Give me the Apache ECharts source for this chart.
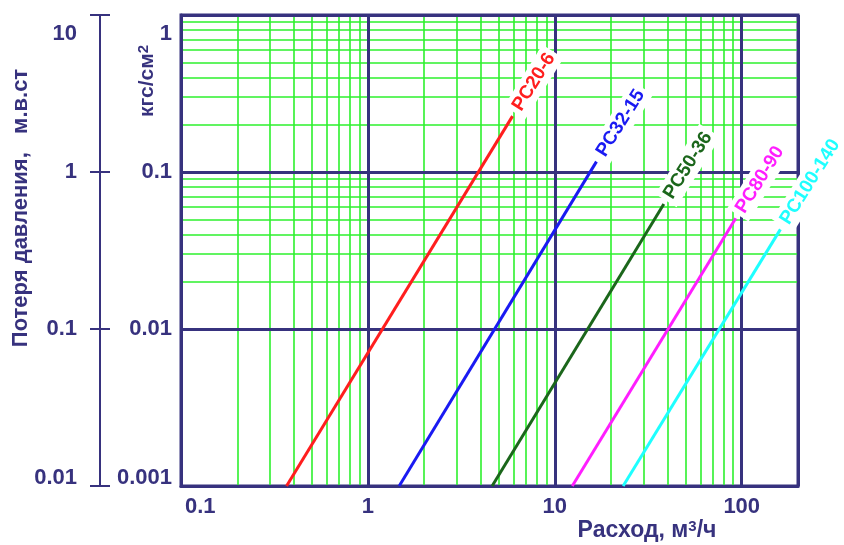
<!DOCTYPE html>
<html><head><meta charset="utf-8">
<script src="https://cdn.jsdelivr.net/npm/echarts@6/dist/echarts.min.js"></script>
<style>html,body{margin:0;padding:0;background:#fff}#c{width:844px;height:545px}</style>
</head><body><div id="c"></div>
<script>
// ---- data ----
const seriesNames = ['PC20-6', 'PC32-15', 'PC50-36', 'PC80-90', 'PC100-140'];
const seriesColors = ['#ff1e1e', '#1a1af2', '#1b661b', '#ff1eff', '#1effff'];
const flowStart = [0.367, 1.47, 4.62, 12.4, 23.2];      // m3/h at bottom end
const lossStart = [0.001, 0.001, 0.001, 0.001, 0.001];  // kgf/cm2
const flowEnd = [5.94, 16.7, 38.3, 92.9, 161];          // m3/h at top end
const lossEnd = [0.227, 0.1164, 0.0625, 0.0507, 0.0431];// kgf/cm2
const xTickLabels = ['0.1', '1', '10', '100'];
const yTickLabels = ['0.001', '0.01', '0.1', '1'];
const yLeftTickLabels = ['0.01', '0.1', '1', '10'];
const xDecades = [0.1, 1, 10];
const yDecades = [0.001, 0.01, 0.1];
const minorSteps = [2, 3, 4, 5, 6, 7, 8, 9];

const NAVY = '#37327e';
const GREEN = '#2cf02c';
const FONT = '"Liberation Sans", Arial, sans-serif';

const xMinor = [];
xDecades.forEach(d => minorSteps.forEach(s => xMinor.push(+(d * s).toPrecision(6))));
const yMinor = [];
yDecades.forEach(d => minorSteps.forEach(s => yMinor.push(+(d * s).toPrecision(6))));

function findLabel(list, v) {
  for (let i = 0; i < list.length; i++) {
    if (Math.abs(Math.log10(parseFloat(list[i])) - Math.log10(v)) < 1e-6) return i;
  }
  return -1;
}
const labelFont = { color: NAVY, fontSize: 22, fontWeight: 'bold', fontFamily: FONT };
const richY = {
  t: Object.assign({ padding: [38, 0, 0, 0] }, labelFont),
  b: Object.assign({ padding: [0, 0, 16, 0] }, labelFont)
};
function yFormatter(list) {
  return function (v) {
    const i = findLabel(list, v);
    if (i < 0) return '';
    if (i === list.length - 1) return '{t|' + list[i] + '}';
    if (i === 0) return '{b|' + list[i] + '}';
    return list[i];
  };
}

const chart = echarts.init(document.getElementById('c'), null, { renderer: 'canvas' });

const curveSeries = seriesNames.map((name, i) => ({
  type: 'line',
  name: name,
  xAxisIndex: 0,
  yAxisIndex: 0,
  z: 3,
  symbol: 'circle',
  symbolSize: 0.1,
  showSymbol: true,
  silent: true,
  lineStyle: { color: seriesColors[i], width: 3 },
  itemStyle: { color: seriesColors[i] },
  label: { show: false },
  data: [
    [flowStart[i], lossStart[i]],
    {
      value: [flowEnd[i], lossEnd[i]],
      label: {
        show: true,
        formatter: name,
        position: 'inside',
        align: 'left',
        verticalAlign: 'middle',
        rotate: 58,
        offset: [4, 0],
        color: seriesColors[i],
        fontSize: 19,
        fontWeight: 'bold',
        fontFamily: FONT,
        backgroundColor: '#ffffff',
        padding: [3, 4, 3, 4]
      }
    }
  ]
}));

const gridSeries = {
  type: 'line',
  xAxisIndex: 0,
  yAxisIndex: 0,
  data: [],
  silent: true,
  markLine: {
    silent: true,
    z: 1,
    animation: false,
    symbol: ['none', 'none'],
    label: { show: false },
    emphasis: { disabled: true },
    lineStyle: { color: GREEN, width: 1.6, type: 'solid' },
    data: xMinor.map(v => ({ xAxis: v })).concat(yMinor.map(v => ({ yAxis: v })))
  }
};

const leftAxisBase = {
  type: 'log', logBase: 10, min: 0.01, max: 10,
  position: 'left', offset: 81, gridIndex: 0, z: 2,
  splitLine: { show: false }
};

chart.setOption({
  animation: false,
  backgroundColor: '#ffffff',
  grid: { left: 181, right: 46, top: 15, bottom: 59, show: true, borderColor: NAVY, borderWidth: 3, backgroundColor: '#ffffff' },
  xAxis: [{
    type: 'log', logBase: 10, min: 0.1, max: 200, z: 2,
    axisLine: { show: true, lineStyle: { color: NAVY, width: 3 } },
    axisTick: { show: false },
    splitLine: { show: true, lineStyle: { color: NAVY, width: 3 } },
    axisLabel: {
      margin: 10, showMinLabel: true, showMaxLabel: false, alignMinLabel: 'left',
      color: NAVY, fontSize: 22, fontWeight: 'bold', fontFamily: FONT,
      formatter: function (v) {
        const i = findLabel(xTickLabels, v);
        if (i < 0) return '';
        if (i === 0) return '{l|' + xTickLabels[i] + '}';
        return xTickLabels[i];
      },
      rich: { l: Object.assign({ padding: [0, 0, 0, 4] }, labelFont) }
    }
  }],
  yAxis: [
    {
      type: 'log', logBase: 10, min: 0.001, max: 1, position: 'left', z: 2,
      axisLine: { show: true, lineStyle: { color: NAVY, width: 3 } },
      axisTick: { show: false },
      splitLine: { show: true, lineStyle: { color: NAVY, width: 3 } },
      axisLabel: {
        margin: 9, showMinLabel: true, showMaxLabel: true,
        color: NAVY, fontSize: 22, fontWeight: 'bold', fontFamily: FONT,
        formatter: yFormatter(yTickLabels), rich: richY
      }
    },
    Object.assign({}, leftAxisBase, {
      axisLine: { show: true, lineStyle: { color: NAVY, width: 2 } },
      axisTick: { show: true, length: 10, lineStyle: { color: NAVY, width: 2 } },
      axisLabel: {
        margin: 23, showMinLabel: true, showMaxLabel: true,
        color: NAVY, fontSize: 22, fontWeight: 'bold', fontFamily: FONT,
        formatter: yFormatter(yLeftTickLabels), rich: richY
      }
    }),
    Object.assign({}, leftAxisBase, {
      axisLine: { show: false },
      axisTick: { show: true, inside: true, length: 10, lineStyle: { color: NAVY, width: 2 } },
      axisLabel: { show: false }
    })
  ],
  graphic: [
    {
      type: 'text', x: 647, y: 531, z: 10,
      style: {
        text: 'Расход, м{s|3}/ч', fill: NAVY, align: 'center', verticalAlign: 'middle',
        font: 'bold 23px ' + FONT,
        rich: { s: { font: 'bold 15px ' + FONT, verticalAlign: 'top', lineHeight: 15 } }
      }
    },
    {
      type: 'text', x: 21, y: 208, rotation: Math.PI / 2, z: 10,
      style: {
        text: 'Потеря давления,   м.в.ст', fill: NAVY, align: 'center', verticalAlign: 'middle',
        font: 'bold 22px ' + FONT
      }
    },
    {
      type: 'text', x: 147, y: 81, rotation: Math.PI / 2, z: 10,
      style: {
        text: 'кгс/см{s|2}', fill: NAVY, align: 'center', verticalAlign: 'middle',
        font: 'bold 21px ' + FONT,
        rich: { s: { font: 'bold 15px ' + FONT, verticalAlign: 'top', lineHeight: 15 } }
      }
    }
  ],
  series: [gridSeries].concat(curveSeries)
});
</script>
</body></html>
